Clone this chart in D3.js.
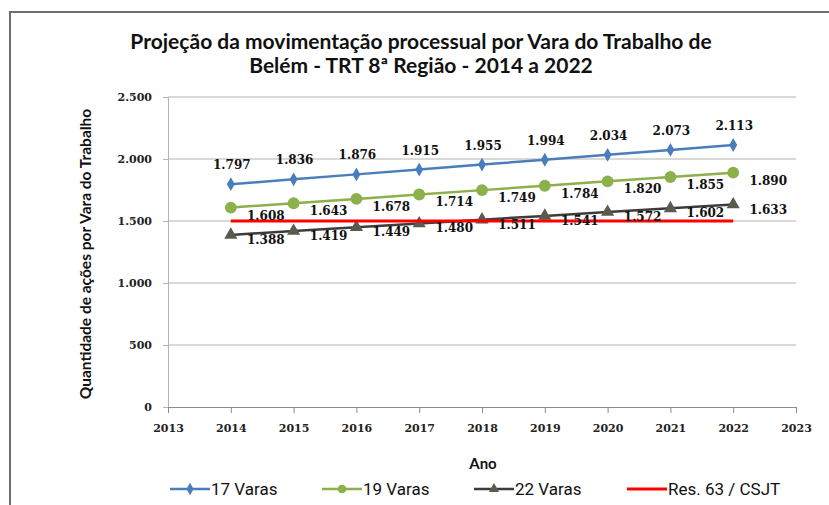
<!DOCTYPE html>
<html>
<head>
<meta charset="utf-8">
<script src="https://cdn.jsdelivr.net/npm/d3@7"></script>
<style>
  body { margin: 0; background: #fff; }
</style>
</head>
<body>
<div id="chart"></div>
<script>
const years = [2014, 2015, 2016, 2017, 2018, 2019, 2020, 2021, 2022];
const varas17 = [1797, 1836, 1876, 1915, 1955, 1994, 2034, 2073, 2113];
const varas19 = [1608, 1643, 1678, 1714, 1749, 1784, 1820, 1855, 1890];
const varas22 = [1388, 1419, 1449, 1480, 1511, 1541, 1572, 1602, 1633];
const res63 = [1500, 1500, 1500, 1500, 1500, 1500, 1500, 1500, 1500];
const yTicks = [0, 500, 1000, 1500, 2000, 2500];
const xTicks = [2013, 2014, 2015, 2016, 2017, 2018, 2019, 2020, 2021, 2022, 2023];

const size = { width: 829, height: 505 };
const margin = { top: 97, right: 33, bottom: 98, left: 168 };

const fmt = (v) => d3.format(",")(v).replace(/,/g, ".");
const serif = "DejaVu Serif, Liberation Serif, serif";
const sans = "Lato, Open Sans, sans-serif";

const svg = d3.select("#chart").append("svg")
  .attr("width", size.width)
  .attr("height", size.height);

// outer frame (only top and left are visible in the crop)
svg.append("path")
  .attr("d", `M10,${size.height} V12 H${size.width}`)
  .attr("fill", "none")
  .attr("stroke", "#6e6e6e")
  .attr("stroke-width", 2);

const x = d3.scaleLinear()
  .domain([2013, 2023])
  .range([margin.left, size.width - margin.right]);

const y = d3.scaleLinear()
  .domain([0, 2500])
  .range([size.height - margin.bottom, margin.top]);

// grid
svg.append("g")
  .selectAll("line")
  .data(yTicks.filter((d) => d > 0))
  .join("line")
  .attr("x1", x(2013))
  .attr("x2", x(2023))
  .attr("y1", (d) => y(d))
  .attr("y2", (d) => y(d))
  .attr("stroke", "#b4b4b4")
  .attr("stroke-width", 1);

// y axis
const yAxis = svg.append("g")
  .attr("transform", `translate(${x(2013)},0)`)
  .call(d3.axisLeft(y).tickValues(yTicks).tickFormat(fmt).tickSize(5).tickPadding(11));
yAxis.select(".domain").attr("stroke", "#b4b4b4");
yAxis.selectAll(".tick line").attr("stroke", "#b4b4b4");
yAxis.selectAll("text")
  .attr("fill", "#222")
  .style("font-family", serif)
  .style("font-weight", "bold")
  .style("font-size", "11px");

// x axis
const xAxis = svg.append("g")
  .attr("transform", `translate(0,${y(0)})`)
  .call(d3.axisBottom(x).tickValues(xTicks).tickFormat((d) => d).tickSize(6).tickPadding(11));
xAxis.select(".domain").attr("stroke", "#8c8c8c");
xAxis.selectAll(".tick line").attr("stroke", "#8c8c8c");
xAxis.selectAll("text")
  .attr("fill", "#222")
  .style("font-family", serif)
  .style("font-weight", "bold")
  .style("font-size", "11px");

const series = [
  { name: "17 Varas", values: varas17, color: "#4a7ebb", line: "#4a7ebb", marker: "diamond", width: 2.5 },
  { name: "19 Varas", values: varas19, color: "#8cb04a", line: "#8cb04a", marker: "circle", width: 2.5 },
  { name: "22 Varas", values: varas22, color: "#5a5a4e", line: "#3c3c3c", marker: "triangle", width: 2.5 },
  { name: "Res. 63 / CSJT", values: res63, color: "#ff0000", line: "#ff0000", marker: null, width: 3 },
];

const line = d3.line()
  .x((d) => x(d.year))
  .y((d) => y(d.value));

const symbolType = { diamond: d3.symbolDiamond, circle: d3.symbolCircle, triangle: d3.symbolTriangle };
const symbolSize = { diamond: 55, circle: 110, triangle: 75 };

series.forEach((s) => {
  const pts = years.map((yr, i) => ({ year: yr, value: s.values[i] }));
  svg.append("path")
    .datum(pts)
    .attr("d", line)
    .attr("fill", "none")
    .attr("stroke", s.line)
    .attr("stroke-width", s.width);
  if (s.marker) {
    svg.append("g")
      .selectAll("path")
      .data(pts)
      .join("path")
      .attr("d", d3.symbol().type(symbolType[s.marker]).size(symbolSize[s.marker]))
      .attr("transform", (d) => `translate(${x(d.year)},${y(d.value)})`)
      .attr("fill", s.color);
  }
});

// data labels
const labelStyle = (sel) => sel
  .style("font-family", serif)
  .style("font-weight", "bold")
  .style("font-size", "12px")
  .attr("fill", "#111");

const addLabels = (values, dx, dy) => svg.append("g")
  .selectAll("text")
  .data(years.map((yr, i) => ({ year: yr, value: values[i] })))
  .join("text")
  .attr("x", (d) => x(d.year) + dx)
  .attr("y", (d) => y(d.value) + dy)
  .attr("text-anchor", "middle")
  .text((d) => fmt(d.value))
  .call(labelStyle);

addLabels(varas17, 1, -15);
addLabels(varas19, 35, 12);
addLabels(varas22, 35, 9);

// title
const title = svg.append("text")
  .attr("x", 421)
  .attr("y", 49)
  .attr("text-anchor", "middle")
  .style("font-family", sans)
  .style("font-weight", "bold")
  .style("font-size", "21px")
  .attr("fill", "#111");
title.append("tspan").attr("x", 421).attr("dy", 0).text("Projeção da movimentação processual por Vara do Trabalho de");
title.append("tspan").attr("x", 421).attr("dy", 24).text("Belém - TRT 8ª Região - 2014 a 2022");

// axis titles
svg.append("text")
  .attr("x", 483)
  .attr("y", 469)
  .attr("text-anchor", "middle")
  .style("font-family", sans)
  .style("font-weight", "bold")
  .style("font-size", "15px")
  .attr("fill", "#111")
  .text("Ano");

svg.append("text")
  .attr("transform", `translate(91,${(y(0) + y(2500)) / 2 + 2}) rotate(-90)`)
  .attr("text-anchor", "middle")
  .style("font-family", sans)
  .style("font-weight", "bold")
  .style("font-size", "15.5px")
  .attr("fill", "#111")
  .text("Quantidade de ações por Vara do Trabalho");

// legend
const legendX = [170, 322, 474, 627];
const legend = svg.append("g")
  .selectAll("g")
  .data(series)
  .join("g")
  .attr("transform", (d, i) => `translate(${legendX[i]},489)`);

legend.append("line")
  .attr("x1", 0)
  .attr("x2", 40)
  .attr("stroke", (d) => d.line)
  .attr("stroke-width", (d) => d.width);

legend.filter((d) => d.marker)
  .append("path")
  .attr("d", (d) => d3.symbol().type(symbolType[d.marker]).size(d.marker === "circle" ? 60 : 45)())
  .attr("transform", "translate(20,0)")
  .attr("fill", (d) => d.color);

legend.append("text")
  .attr("x", 41)
  .attr("y", 6)
  .style("font-family", "Roboto, sans-serif")
  .style("font-size", "17px")
  .attr("fill", "#111")
  .text((d) => d.name);
</script>
</body>
</html>
